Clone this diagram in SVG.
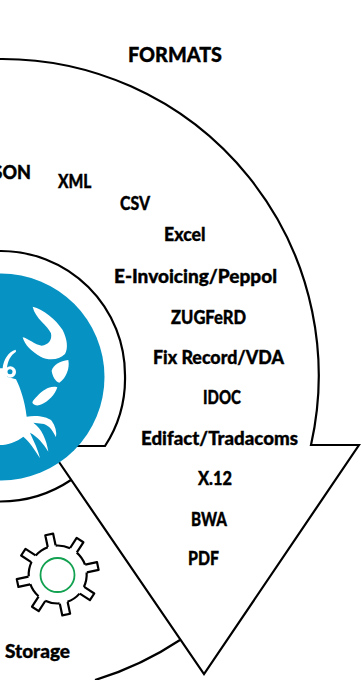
<svg xmlns="http://www.w3.org/2000/svg" width="361" height="680" viewBox="0 0 361 680">
<style>
text{font-family:"Lato","Liberation Sans",sans-serif;font-weight:900;font-size:18px;fill:#000;stroke:#000;stroke-width:.35}
.t{font-size:20.500px}
.l{fill:none;stroke:#000;stroke-width:2.200;stroke-linejoin:miter}
.w{fill:#fff}
.g{fill:none;stroke:#000;stroke-width:2.200;stroke-linejoin:round}
</style>
<g id="connectors">
<path class="l" d="M0 59A316.500 316.500 0 0 1 311 445L359 445L204 674L59 462"/>
<path class="l" d="M0 251A124 124 0 0 1 125 375A124 124 0 0 1 105 446L70 446"/>
<path class="l" d="M71 480A127 127 0 0 1 0 501.500"/>
<path class="l" d="M180 640A320 320 0 0 1 95 680"/>
</g>
<g id="hub">
<circle cx="1" cy="377" r="103.500" fill="#0693c4"/>
<g transform="translate(0 300) scale(.3333)" class="w">
<path d="M98 20C130 28 168 58 188 90C202 118 205 145 195 162C177 181 145 182 122 170C95 155 74 135 68 112C85 115 105 135 125 137C145 135 157 120 153 100C145 78 105 55 98 20Z"/>
<path d="M205 180C180 183 160 195 155 212C157 230 168 246 178 248C198 235 210 205 205 180Z"/>
<path d="M172 262C150 256 130 270 112 288C105 295 98 302 97 308C103 318 115 318 125 313C145 304 165 285 172 262Z"/>
<path d="M0 228L20 230L48 238C60 262 74 300 80 350C105 345 140 348 155 362C166 378 171 395 168 412C160 395 150 378 132 372L100 368C125 385 140 420 145 455C130 430 112 410 90 398C102 425 115 450 120 475C105 450 88 425 70 410C50 425 25 435 0 435Z"/>
<path d="M0 205L8 205C10 180 25 155 47 149L48 155C32 165 22 185 21 205L21 232L0 232Z"/>
<circle cx="31" cy="216" r="17"/>
<circle cx="30" cy="215" r="7.500" fill="#0693c4"/>
</g>
</g>
<g id="storage">
<g class="g" transform="translate(57.700 574.500)">
<circle r="29" stroke-dasharray="14.780 8" transform="rotate(-139.100)"/>
<path d="M29 -4L41 -4L41 4L29 4" transform="rotate(-102)"/>
<path d="M29 -4L41 -4L41 4L29 4" transform="rotate(-57)"/>
<path d="M29 -4L41 -4L41 4L29 4" transform="rotate(-12)"/>
<path d="M29 -4L41 -4L41 4L29 4" transform="rotate(33)"/>
<path d="M29 -4L41 -4L41 4L29 4" transform="rotate(78)"/>
<path d="M29 -4L41 -4L41 4L29 4" transform="rotate(123)"/>
<path d="M29 -4L41 -4L41 4L29 4" transform="rotate(168)"/>
<path d="M29 -4L41 -4L41 4L29 4" transform="rotate(213)"/>
</g>
<circle cx="57.500" cy="575" r="17" fill="none" stroke="#12a150" stroke-width="1.800"/>
<text x="5" y="658" textLength="65" lengthAdjust="spacingAndGlyphs">Storage</text>
</g>
<g id="formats">
<text class="t" x="128" y="62" textLength="94" lengthAdjust="spacingAndGlyphs">FORMATS</text>
<text x="31" y="179" text-anchor="end">JSON</text>
<text x="58" y="188" textLength="33.500" lengthAdjust="spacingAndGlyphs">XML</text>
<text x="120" y="210" textLength="30" lengthAdjust="spacingAndGlyphs">CSV</text>
<text x="164" y="241" textLength="41.500" lengthAdjust="spacingAndGlyphs">Excel</text>
<text x="114" y="283" textLength="163" lengthAdjust="spacingAndGlyphs">E-Invoicing/Peppol</text>
<text x="171" y="324" textLength="75" lengthAdjust="spacingAndGlyphs">ZUGFeRD</text>
<text x="153" y="364" textLength="131" lengthAdjust="spacingAndGlyphs">Fix Record/VDA</text>
<text x="203" y="404" textLength="38" lengthAdjust="spacingAndGlyphs">IDOC</text>
<text x="141" y="445" textLength="157" lengthAdjust="spacingAndGlyphs">Edifact/Tradacoms</text>
<text x="198" y="485" textLength="34" lengthAdjust="spacingAndGlyphs">X.12</text>
<text x="191" y="526" textLength="36" lengthAdjust="spacingAndGlyphs">BWA</text>
<text x="188" y="565" textLength="31" lengthAdjust="spacingAndGlyphs">PDF</text>
</g>
</svg>
